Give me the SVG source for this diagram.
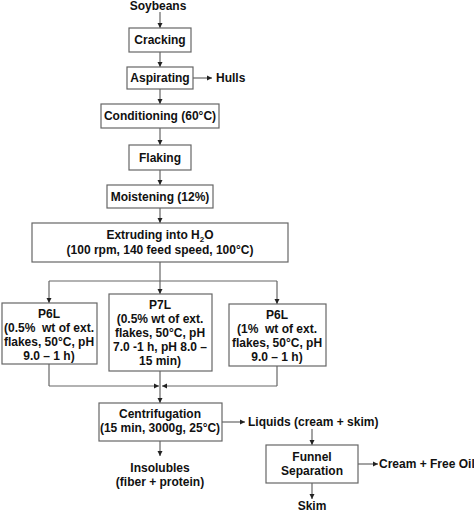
<svg xmlns="http://www.w3.org/2000/svg" width="474" height="513" viewBox="0 0 474 513">
<defs>
<marker id="ah" markerWidth="6" markerHeight="6" refX="5" refY="3" orient="auto" markerUnits="userSpaceOnUse">
<path d="M0,0.5 L5,3 L0,5.5 Z" fill="#222"/>
</marker>
</defs>
<style>
text{font-family:"Liberation Sans",Arial,sans-serif;font-weight:bold;font-size:12px;fill:#111;text-anchor:middle}
.box{fill:#fff;stroke:#666;stroke-width:1.2}
.ln{fill:none;stroke:#666;stroke-width:1.2}
.ar{fill:none;stroke:#666;stroke-width:1.2;marker-end:url(#ah)}
.st{text-anchor:start}
</style>
<rect width="474" height="513" fill="#fff"/>
<g id="connectors">
<line class="ar" x1="160" y1="12" x2="160" y2="28"/>
<line class="ar" x1="160" y1="52" x2="160" y2="67"/>
<line class="ar" x1="193" y1="78" x2="212" y2="78"/>
<line class="ar" x1="160" y1="89" x2="160" y2="104"/>
<line class="ar" x1="160" y1="128" x2="160" y2="145"/>
<line class="ar" x1="160" y1="170" x2="160" y2="185"/>
<line class="ar" x1="160" y1="208" x2="160" y2="223"/>
<line class="ln" x1="160" y1="262" x2="160" y2="281"/>
<line class="ln" x1="49" y1="281" x2="277" y2="281"/>
<line class="ar" x1="49" y1="281" x2="49" y2="303"/>
<line class="ar" x1="160" y1="281" x2="160" y2="294"/>
<line class="ar" x1="277" y1="281" x2="277" y2="304"/>
<line class="ln" x1="49" y1="364" x2="49" y2="386"/>
<line class="ar" x1="49" y1="386" x2="159" y2="386"/>
<line class="ln" x1="277" y1="366" x2="277" y2="386"/>
<line class="ar" x1="277" y1="386" x2="162" y2="386"/>
<line class="ln" x1="160" y1="371" x2="160" y2="386"/>
<line class="ar" x1="160" y1="386" x2="160" y2="403"/>
<line class="ar" x1="222" y1="422" x2="245" y2="422"/>
<line class="ar" x1="312" y1="429" x2="312" y2="445"/>
<line class="ar" x1="358" y1="464" x2="378" y2="464"/>
<line class="ar" x1="312" y1="483" x2="312" y2="499"/>
<line class="ar" x1="160" y1="441" x2="160" y2="456"/>
</g>
<g id="soybeans"><text x="158" y="10">Soybeans</text></g>
<g id="cracking"><rect class="box" x="129" y="28" width="62" height="24"/><text x="160" y="44">Cracking</text></g>
<g id="aspirating"><rect class="box" x="127" y="67" width="66" height="22"/><text x="160" y="82">Aspirating</text></g>
<g id="hulls"><text class="st" x="216" y="82">Hulls</text></g>
<g id="conditioning"><rect class="box" x="101" y="104" width="118" height="24"/><text x="160" y="120">Conditioning (60°C)</text></g>
<g id="flaking"><rect class="box" x="129" y="145" width="62" height="25"/><text x="160" y="162">Flaking</text></g>
<g id="moistening"><rect class="box" x="107" y="185" width="106" height="23"/><text x="160" y="201">Moistening (12%)</text></g>
<g id="extruding"><rect class="box" x="32" y="223" width="256" height="39"/>
<text x="160" y="239">Extruding into H<tspan font-size="8" dy="3">2</tspan><tspan dy="-3">O</tspan></text>
<text x="160" y="254">(100 rpm, 140 feed speed, 100°C)</text></g>
<g id="p6l-a"><rect class="box" x="2" y="303" width="95" height="61"/>
<text x="49" y="318">P6L</text><text x="49" y="332">(0.5%&#160; wt of ext.</text><text x="49" y="346">flakes, 50°C, pH</text><text x="49" y="360">9.0 – 1 h)</text></g>
<g id="p7l"><rect class="box" x="109" y="294" width="103" height="77"/>
<text x="160" y="309">P7L</text><text x="160" y="323">(0.5% wt of ext.</text><text x="160" y="337">flakes, 50°C, pH</text><text x="160" y="351">7.0 -1 h, pH 8.0 –</text><text x="160" y="365">15 min)</text></g>
<g id="p6l-b"><rect class="box" x="229" y="304" width="97" height="62"/>
<text x="277" y="319">P6L</text><text x="277" y="333">(1%&#160; wt of ext.</text><text x="277" y="347">flakes, 50°C, pH</text><text x="277" y="361">9.0 – 1 h)</text></g>
<g id="centrifugation"><rect class="box" x="99" y="403" width="123" height="38"/>
<text x="160" y="418">Centrifugation</text><text x="160" y="432">(15 min, 3000g, 25°C)</text></g>
<g id="liquids"><text class="st" x="248" y="426">Liquids (cream + skim)</text></g>
<g id="funnel"><rect class="box" x="266" y="445" width="92" height="38"/>
<text x="312" y="461">Funnel</text><text x="312" y="475">Separation</text></g>
<g id="cream"><text class="st" x="379" y="468">Cream + Free Oil</text></g>
<g id="skim"><text x="312" y="510">Skim</text></g>
<g id="insolubles"><text x="160" y="472">Insolubles</text><text x="160" y="486">(fiber + protein)</text></g>
</svg>
